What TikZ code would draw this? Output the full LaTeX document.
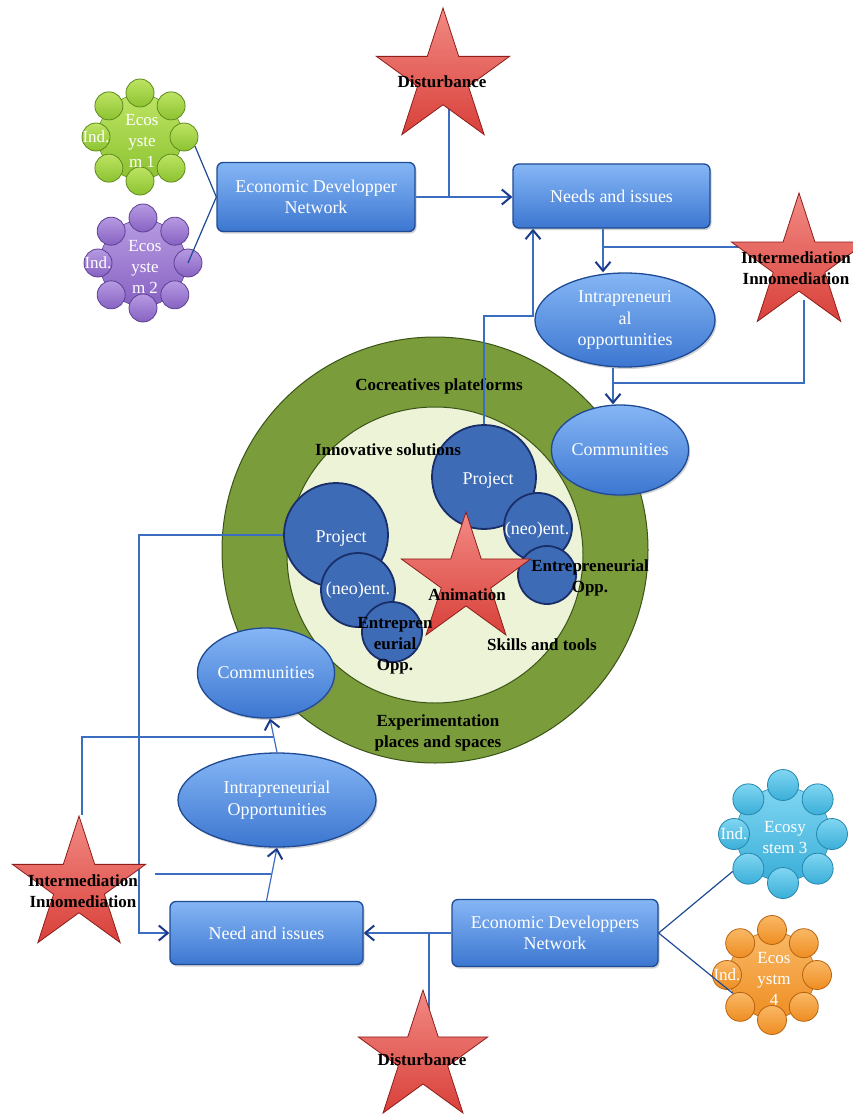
\documentclass[tikz,border=0pt]{standalone}
\usepackage{fontspec}
\setmainfont{Liberation Serif}
\newfontfamily\boxfam{Liberation Serif}
\usetikzlibrary{shapes.geometric,arrows.meta,calc,shadows}
\pgfdeclarelayer{bg}
\pgfdeclarelayer{conn}
\pgfsetlayers{bg,conn,main}
\definecolor{boxT}{HTML}{85B6F5}
\definecolor{boxB}{HTML}{3C76D0}
\definecolor{boxD}{HTML}{1F4A94}
\definecolor{ringG}{HTML}{7A9C3A}
\definecolor{ringD}{HTML}{3A5418}
\definecolor{innerG}{HTML}{ECF3D6}
\definecolor{projF}{HTML}{3D6BB5}
\definecolor{projD}{HTML}{1A2E6A}
\definecolor{starT}{HTML}{F28A84}
\definecolor{starB}{HTML}{D9403A}
\definecolor{starD}{HTML}{8E1E1A}
\definecolor{lineC}{HTML}{3B6DC0}
\definecolor{arrC}{HTML}{1A3A8A}
\definecolor{gT}{HTML}{BDE463}
\definecolor{gB}{HTML}{8CC230}
\definecolor{gD}{HTML}{5E8A1E}
\definecolor{pT}{HTML}{B69AE2}
\definecolor{pB}{HTML}{8762C2}
\definecolor{pD}{HTML}{5D3F92}
\definecolor{cT}{HTML}{80D6F2}
\definecolor{cB}{HTML}{3AAED8}
\definecolor{cD}{HTML}{2587AE}
\definecolor{oT}{HTML}{F9B865}
\definecolor{oB}{HTML}{EE8D22}
\definecolor{oD}{HTML}{B86410}
\newcommand\dfont{\fontsize{17}{21}\selectfont}
\newcommand\myboxfont{\boxfam\fontsize{18}{21.5}\selectfont}
\newcommand\ecosys[9]{%
  \node[ecobody, top color=#6, bottom color=#7, draw=#8, minimum size={2*(#4-2)}] (#1) at (#2,#3) {};
  \foreach \k/\a in {1/90,2/45,3/0,4/-45,5/-90,6/-135,7/180,8/135}{
    \node[ecoball, top color=#6, bottom color=#7, draw=#8, minimum size={2*#5}] (#1-\k) at ({#2+#4*cos(\a)},{#3-#4*sin(\a)}) {};
  }
  \node[ecotext] (#1-t) at ($(#1)+(2,4)$) {#9};
  \node[ecotext] (#1-ind) at (#1-7) {Ind.};
}
\begin{document}
\begin{tikzpicture}[x=1pt,y=-1pt,
  box/.style={draw=boxD, line width=1.3pt, rounded corners=6pt, top color=boxT, bottom color=boxB, text=white, align=center, inner sep=0pt, font=\myboxfont, drop shadow={shadow xshift=1.5pt,shadow yshift=-2pt,opacity=.35}},
  oval/.style={ellipse, draw=boxD, line width=1.3pt, top color=boxT, bottom color=boxB, text=white, align=center, inner sep=0pt, font=\myboxfont, drop shadow={shadow xshift=1.5pt,shadow yshift=-2pt,opacity=.35}},
  ringc/.style={circle, draw=ringD, line width=1pt, fill=ringG, inner sep=0pt},
  innerc/.style={circle, draw=ringD, line width=1pt, fill=innerG, inner sep=0pt},
  projc/.style={circle, draw=projD, line width=1.8pt, fill=projF, inner sep=0pt},
  wlbl/.style={text=white, align=center, font=\myboxfont, inner sep=0pt},
  starn/.style={star, star points=5, star point ratio=2.618, draw=starD, line width=0.8pt, top color=starT, bottom color=starB, inner sep=0pt},
  slbl/.style={font=\dfont\bfseries, text=black, align=center, inner sep=0pt},
  conn/.style={draw=lineC, line width=1.2pt},
  arr/.style={conn, -{Straight Barb[length=9pt,width=15pt,line width=2pt,color=arrC]}},
  ecobody/.style={circle, line width=0.6pt, inner sep=0pt},
  ecoball/.style={circle, line width=0.8pt, inner sep=0pt},
  ecotext/.style={text=white, align=center, font=\dfont, inner sep=0pt}
]
\useasboundingbox (0,0) rectangle (853,1118);

% ---------- central platform ----------
\begin{pgfonlayer}{bg}
\fill[white] (0,0) rectangle (853,1118);
\node[ringc, minimum size=426] (plat) at (435,550) {};
\node[innerc, minimum size=296] (inn) at (435,555) {};
\node[projc, minimum size=104] (proj1) at (484,477) {};
\node[projc, minimum size=68] (neo1) at (538,527) {};
\node[projc, minimum size=58] (ent1) at (547,575) {};
\node[projc, minimum size=104] (proj2) at (336,535) {};
\node[projc, minimum size=74] (neo2) at (358,590) {};
\node[projc, minimum size=60] (ent2) at (392,632) {};
\node[starn, minimum size=136] (anim) at (466,580) {};
\node[wlbl] (proj1t) at (488,480) {Project};
\node[wlbl] (proj2t) at (341,538) {Project};
\node[wlbl] (neo1t) at (537,530) {(neo)ent.};
\node[wlbl] (neo2t) at (358,590) {(neo)ent.};
\node[slbl] (ent1t) at (590,578) {Entrepreneurial\\Opp.};
\node[slbl] (ent2t) at (395,646) {Entrepren\\eurial\\Opp.};
\node[slbl] (animt) at (467,595) {Animation};
\node[slbl] (skills) at (542,645) {Skills and tools};
\node[slbl] (innov) at (388,450) {Innovative solutions};
\node[slbl] (cocr) at (439,386) {Cocreatives plateforms};
\node[slbl] (expe) at (438,733) {Experimentation\\places and spaces};
\end{pgfonlayer}

% ---------- boxes and ovals ----------
\node[box, minimum width=198, minimum height=69] (edn) at (316,197) {Economic Developper\\Network};
\node[box, minimum width=197, minimum height=64] (nei) at (611.5,196) {Needs and issues};
\node[box, minimum width=193, minimum height=63] (nei2) at (266.5,933) {Need and issues};
\node[box, minimum width=206, minimum height=67] (edn2) at (555,933) {Economic Developpers\\Network};
\node[oval, minimum width=180, minimum height=94] (io1) at (625,320) {Intrapreneuri\\al\\opportunities};
\node[oval, minimum width=128, minimum height=90] (com1) at (620,450) {Communities};
\node[oval, minimum width=132, minimum height=90] (com2) at (266,673) {Communities};
\node[oval, minimum width=198, minimum height=94] (io2) at (277,800) {Intrapreneurial\\Opportunities};

% ---------- stars ----------
\node[starn, minimum size=140] (dist1) at (443,78) {};
\node[slbl] (dist1t) at (442,82) {Disturbance};
\node[starn, minimum size=142] (int1) at (799,264) {};
\node[slbl] (int1t) at (796,268) {Intermediation\\Innomediation};
\node[starn, minimum size=140] (int2) at (79,886) {};
\node[slbl] (int2t) at (83,891) {Intermediation\\Innomediation};
\node[starn, minimum size=136] (dist2) at (423,1058) {};
\node[slbl] (dist2t) at (422,1060) {Disturbance};

% ---------- ecosystems ----------
\ecosys{eco1}{140}{137}{44}{14}{gT}{gB}{gD}{Ecos\\yste\\m 1}
\ecosys{eco2}{143}{263}{45}{14}{pT}{pB}{pD}{Ecos\\yste\\m 2}
\ecosys{eco3}{783}{834}{49}{15.5}{cT}{cB}{cD}{Ecosy\\stem 3}
\ecosys{eco4}{772}{975}{45}{14.5}{oT}{oB}{oD}{Ecos\\ystm\\4}

\draw[conn, draw=boxD] (eco1-3.-40) -- (edn.west);
\draw[conn, draw=boxD] (eco2-3.center) -- (edn.west);
\draw[conn, draw=boxD] (edn2.east) -- (eco3-6.190);
\draw[conn, draw=boxD] (edn2.east) -- (eco4.205);

% ---------- connectors ----------
\coordinate (d1) at (449,100);
\coordinate (a4) at (603,0);
\coordinate (i1) at (740,247);
\coordinate (a6) at (613,0);
\coordinate (i2) at (804,300);
\coordinate (i2b) at (804,383);
\coordinate (c8) at (533,316);
\coordinate (c9) at (139,535);
\coordinate (d2) at (429,1010);
\coordinate (i3) at (82,815);
\coordinate (j14) at (273,737);
\coordinate (i4) at (155,874);
\coordinate (j15) at (271,874);
\begin{pgfonlayer}{conn}
\draw[arr] (edn.east) -- (edn.east -| nei.west);
\draw[conn] (d1) -- (d1 |- edn.east);
\draw[arr] (a4 |- nei.south) -- (a4 |- io1.north);
\draw[conn] (i1) -- (a4 |- i1);
\draw[arr] (a6 |- io1.south) -- (a6 |- com1.north);
\draw[conn] (i2) -- (i2b) -- (a6 |- i2b);
\draw[arr] (proj1.north) |- (c8) -- (c8 |- nei.south);
\draw[arr] (proj2.west) -- (c9) |- (nei2.west);
\draw[arr] (edn2.west) -- (edn2.west -| nei2.east);
\draw[conn] (d2) -- (d2 |- nei2.east);
\draw[arr] (nei2.north) -- (io2.south);
\draw[arr] (io2.north) -- (com2.-85);
\draw[conn] (i3) |- (j14);
\draw[conn] (i4) -- (j15);
\end{pgfonlayer}
\end{tikzpicture}
\end{document}
